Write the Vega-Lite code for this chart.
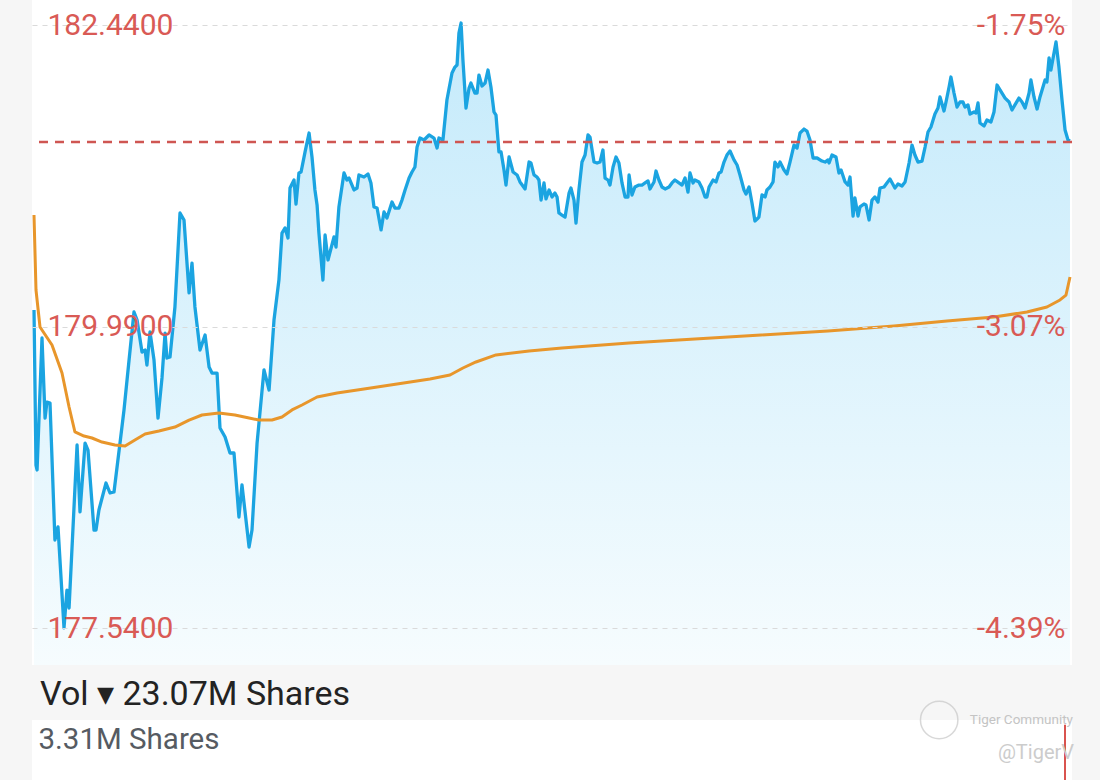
{
  "$schema": "https://vega.github.io/schema/vega-lite/v6.json",
  "background": "#f6f6f6",
  "padding": {"left": 30, "right": 30, "top": 0, "bottom": 0},
  "config": {"view": {"stroke": null, "fill": "#ffffff"}, "font": "Roboto"},
  "bounds": "flush",
  "spacing": 55,
  "datasets": {
    "price": [
      {"t":0.75,"p":180.125},{"t":1.5,"p":178.865},{"t":1.9,"p":178.825},{"t":3.75,"p":179.898},{"t":4.9,"p":179.247},{"t":5.6,"p":179.377},{"t":6.75,"p":179.369},{"t":8.6,"p":178.256},{"t":9.75,"p":178.362},{"t":12.0,"p":177.541},
      {"t":13.1,"p":177.849},{"t":13.9,"p":177.703},{"t":16.9,"p":179.028},{"t":18.0,"p":178.484},{"t":19.9,"p":179.044},{"t":21.0,"p":178.987},{"t":23.25,"p":178.337},{"t":24.0,"p":178.337},{"t":25.1,"p":178.5},{"t":27.75,"p":178.719},
      {"t":29.25,"p":178.638},{"t":30.75,"p":178.646},{"t":33.0,"p":179.044},{"t":34.5,"p":179.313},{"t":36.4,"p":179.719},{"t":38.25,"p":180.109},{"t":39.4,"p":180.044},{"t":41.25,"p":179.784},{"t":42.4,"p":179.8},{"t":43.1,"p":179.678},
      {"t":44.25,"p":179.947},{"t":45.75,"p":179.719},{"t":47.25,"p":179.247},{"t":48.75,"p":179.573},{"t":49.9,"p":179.938},{"t":50.6,"p":179.735},{"t":51.75,"p":179.743},{"t":53.6,"p":180.15},{"t":55.5,"p":180.914},{"t":57.0,"p":180.857},
      {"t":58.9,"p":180.264},{"t":60.0,"p":180.507},{"t":61.1,"p":180.15},{"t":63.0,"p":179.8},{"t":64.9,"p":179.922},{"t":66.4,"p":179.662},{"t":67.5,"p":179.613},{"t":69.4,"p":179.613},{"t":70.5,"p":179.166},{"t":72.4,"p":179.093},
      {"t":74.25,"p":178.963},{"t":75.75,"p":178.963},{"t":77.6,"p":178.443},{"t":78.75,"p":178.703},{"t":81.4,"p":178.199},{"t":82.5,"p":178.337},{"t":84.4,"p":179.044},{"t":87.0,"p":179.638},{"t":88.9,"p":179.475},{"t":90.75,"p":180.044},
      {"t":92.6,"p":180.369},{"t":93.75,"p":180.751},{"t":94.9,"p":180.792},{"t":96.0,"p":180.711},{"t":96.75,"p":181.117},{"t":98.25,"p":181.182},{"t":99.0,"p":180.987},{"t":100.1,"p":181.239},{"t":100.9,"p":181.247},{"t":102.4,"p":181.41},
      {"t":103.9,"p":181.564},{"t":105.0,"p":181.369},{"t":106.1,"p":181.101},{"t":106.9,"p":180.979},{"t":107.6,"p":180.751},{"t":109.1,"p":180.369},{"t":109.9,"p":180.735},{"t":111.0,"p":180.532},{"t":113.25,"p":180.719},{"t":114.0,"p":180.637},
      {"t":115.1,"p":180.963},{"t":117.0,"p":181.239},{"t":118.1,"p":181.182},{"t":118.9,"p":181.198},{"t":120.75,"p":181.101},{"t":121.9,"p":181.117},{"t":122.6,"p":181.223},{"t":124.5,"p":181.206},{"t":126.0,"p":181.231},{"t":127.1,"p":181.158},
      {"t":128.25,"p":180.963},{"t":129.4,"p":180.954},{"t":130.9,"p":180.776},{"t":132.0,"p":180.922},{"t":133.1,"p":180.873},{"t":135.0,"p":181.003},{"t":136.1,"p":180.954},{"t":137.6,"p":180.954},{"t":138.75,"p":181.019},{"t":139.9,"p":181.101},
      {"t":141.4,"p":181.198},{"t":142.5,"p":181.247},{"t":143.6,"p":181.288},{"t":144.4,"p":181.45},{"t":145.5,"p":181.523},{"t":147.0,"p":181.507},{"t":148.9,"p":181.548},{"t":150.75,"p":181.523},{"t":151.9,"p":181.442},{"t":152.6,"p":181.523},
      {"t":154.1,"p":181.507},{"t":155.6,"p":181.832},{"t":157.5,"p":182.052},{"t":158.6,"p":182.1},{"t":159.4,"p":182.117},{"t":160.1,"p":182.377},{"t":160.9,"p":182.458},{"t":161.6,"p":182.157},{"t":162.75,"p":181.767},{"t":163.9,"p":181.93},
      {"t":164.6,"p":181.97},{"t":166.1,"p":181.889},{"t":166.9,"p":181.889},{"t":167.6,"p":182.035},{"t":168.75,"p":181.946},{"t":169.9,"p":181.97},{"t":171.0,"p":182.076},{"t":172.1,"p":181.938},{"t":173.25,"p":181.735},{"t":174.0,"p":181.71},
      {"t":175.1,"p":181.41},{"t":175.9,"p":181.41},{"t":177.0,"p":181.263},{"t":177.75,"p":181.141},{"t":178.9,"p":181.369},{"t":180.4,"p":181.247},{"t":181.9,"p":181.223},{"t":183.0,"p":181.166},{"t":184.9,"p":181.109},{"t":186.4,"p":181.328},
      {"t":187.1,"p":181.32},{"t":188.25,"p":181.223},{"t":189.4,"p":181.206},{"t":190.1,"p":181.182},{"t":190.9,"p":181.019},{"t":192.0,"p":181.158},{"t":192.75,"p":181.028},{"t":193.9,"p":181.101},{"t":195.0,"p":181.044},{"t":196.1,"p":181.076},
      {"t":196.9,"p":181.044},{"t":197.6,"p":180.914},{"t":198.75,"p":180.897},{"t":199.9,"p":180.881},{"t":201.4,"p":181.076},{"t":202.1,"p":181.117},{"t":203.25,"p":181.019},{"t":204.0,"p":180.832},{"t":205.1,"p":181.101},{"t":206.25,"p":181.328},
      {"t":207.4,"p":181.385},{"t":208.5,"p":181.548},{"t":209.25,"p":181.531},{"t":210.75,"p":181.328},{"t":211.9,"p":181.32},{"t":213.0,"p":181.328},{"t":214.1,"p":181.426},{"t":214.9,"p":181.198},{"t":216.0,"p":181.182},{"t":216.75,"p":181.141},
      {"t":217.9,"p":181.288},{"t":219.0,"p":181.369},{"t":220.1,"p":181.32},{"t":221.25,"p":181.158},{"t":222.4,"p":181.044},{"t":223.5,"p":181.044},{"t":223.9,"p":181.223},{"t":225.0,"p":181.06},{"t":226.1,"p":181.125},{"t":227.6,"p":181.141},
      {"t":228.75,"p":181.141},{"t":229.9,"p":181.158},{"t":231.0,"p":181.174},{"t":231.75,"p":181.109},{"t":233.25,"p":181.166},{"t":234.0,"p":181.255},{"t":235.1,"p":181.182},{"t":236.25,"p":181.125},{"t":237.4,"p":181.109},{"t":238.9,"p":181.125},
      {"t":240.0,"p":181.158},{"t":241.1,"p":181.182},{"t":242.6,"p":181.158},{"t":243.75,"p":181.141},{"t":244.9,"p":181.198},{"t":246.0,"p":181.084},{"t":246.75,"p":181.239},{"t":247.9,"p":181.158},{"t":248.6,"p":181.182},{"t":250.1,"p":181.166},
      {"t":251.25,"p":181.117},{"t":252.4,"p":181.044},{"t":253.1,"p":181.044},{"t":253.9,"p":181.125},{"t":255.4,"p":181.182},{"t":256.5,"p":181.166},{"t":257.6,"p":181.239},{"t":258.4,"p":181.247},{"t":259.5,"p":181.328},{"t":260.6,"p":181.385},
      {"t":261.75,"p":181.418},{"t":263.25,"p":181.345},{"t":264.4,"p":181.304},{"t":265.5,"p":181.223},{"t":267.0,"p":181.101},{"t":267.75,"p":181.068},{"t":268.9,"p":181.125},{"t":270.0,"p":180.995},{"t":271.1,"p":180.849},{"t":271.9,"p":180.865},
      {"t":272.6,"p":180.881},{"t":273.75,"p":181.06},{"t":274.9,"p":181.044},{"t":275.6,"p":181.101},{"t":276.75,"p":181.125},{"t":277.9,"p":181.166},{"t":278.6,"p":181.328},{"t":279.75,"p":181.288},{"t":280.5,"p":181.328},{"t":282.0,"p":181.263},
      {"t":283.1,"p":181.231},{"t":284.25,"p":181.328},{"t":285.75,"p":181.466},{"t":286.9,"p":181.442},{"t":288.0,"p":181.564},{"t":289.5,"p":181.596},{"t":290.6,"p":181.58},{"t":291.75,"p":181.507},{"t":292.9,"p":181.361},{"t":294.4,"p":181.361},
      {"t":296.25,"p":181.336},{"t":297.4,"p":181.328},{"t":298.5,"p":181.345},{"t":298.9,"p":181.32},{"t":300.0,"p":181.385},{"t":301.5,"p":181.369},{"t":302.6,"p":181.239},{"t":303.4,"p":181.263},{"t":304.9,"p":181.166},{"t":306.0,"p":181.141},
      {"t":306.75,"p":181.206},{"t":307.9,"p":180.889},{"t":308.6,"p":181.036},{"t":309.75,"p":180.889},{"t":310.5,"p":180.963},{"t":312.0,"p":180.987},{"t":312.75,"p":180.979},{"t":313.9,"p":180.857},{"t":315.0,"p":181.019},{"t":316.1,"p":181.044},
      {"t":317.25,"p":181.003},{"t":318.0,"p":181.117},{"t":319.5,"p":181.125},{"t":320.6,"p":181.158},{"t":321.75,"p":181.19},{"t":323.6,"p":181.117},{"t":324.75,"p":181.149},{"t":326.25,"p":181.133},{"t":327.4,"p":181.166},{"t":328.9,"p":181.32},
      {"t":330.0,"p":181.466},{"t":331.1,"p":181.385},{"t":332.25,"p":181.328},{"t":333.75,"p":181.336},{"t":334.9,"p":181.45},{"t":336.0,"p":181.572},{"t":337.1,"p":181.613},{"t":338.6,"p":181.718},{"t":339.75,"p":181.767},{"t":340.5,"p":181.857},
      {"t":342.0,"p":181.743},{"t":342.75,"p":181.816},{"t":343.9,"p":181.938},{"t":344.6,"p":182.019},{"t":345.75,"p":181.889},{"t":346.9,"p":181.775},{"t":348.0,"p":181.816},{"t":349.1,"p":181.816},{"t":349.9,"p":181.775},{"t":351.0,"p":181.792},
      {"t":351.75,"p":181.718},{"t":353.25,"p":181.735},{"t":354.0,"p":181.727},{"t":354.75,"p":181.808},{"t":355.5,"p":181.645},{"t":357.0,"p":181.621},{"t":358.1,"p":181.67},{"t":359.6,"p":181.653},{"t":360.75,"p":181.735},{"t":361.9,"p":181.954},
      {"t":363.0,"p":181.914},{"t":364.9,"p":181.848},{"t":366.4,"p":181.816},{"t":367.5,"p":181.751},{"t":368.6,"p":181.792},{"t":370.1,"p":181.848},{"t":371.25,"p":181.816},{"t":372.4,"p":181.767},{"t":373.9,"p":181.889},{"t":374.6,"p":181.995},
      {"t":375.75,"p":181.857},{"t":376.9,"p":181.759},{"t":378.0,"p":181.857},{"t":379.9,"p":181.995},{"t":380.6,"p":181.979},{"t":381.4,"p":182.174},{"t":382.1,"p":182.076},{"t":383.25,"p":182.214},{"t":384.0,"p":182.304},{"t":385.1,"p":182.1},
      {"t":386.25,"p":181.832},{"t":387.4,"p":181.588},{"t":388.5,"p":181.507},{"t":389.25,"p":181.499}
    ],
    "avg": [
      {"t":0.75,"a":180.897},{"t":1.5,"a":180.288},{"t":3.0,"a":179.987},{"t":7.5,"a":179.841},{"t":11.25,"a":179.613},{"t":13.9,"a":179.337},{"t":16.1,"a":179.134},{"t":19.5,"a":179.101},{"t":22.5,"a":179.085},{"t":26.25,"a":179.052},
      {"t":31.1,"a":179.028},{"t":34.9,"a":179.02},{"t":38.6,"a":179.069},{"t":42.4,"a":179.117},{"t":47.6,"a":179.142},{"t":53.6,"a":179.174},{"t":58.9,"a":179.231},{"t":63.75,"a":179.272},{"t":70.1,"a":179.288},{"t":76.1,"a":179.272},
      {"t":81.4,"a":179.248},{"t":85.1,"a":179.231},{"t":90.0,"a":179.231},{"t":93.75,"a":179.256},{"t":97.5,"a":179.313},{"t":101.25,"a":179.353},{"t":106.9,"a":179.418},{"t":114.4,"a":179.451},{"t":124.5,"a":179.483},{"t":136.9,"a":179.524},
      {"t":149.25,"a":179.564},{"t":156.75,"a":179.597},{"t":161.6,"a":179.654},{"t":166.5,"a":179.703},{"t":174.0,"a":179.76},{"t":186.4,"a":179.792},{"t":198.75,"a":179.816},{"t":223.9,"a":179.857},{"t":248.6,"a":179.89},{"t":273.4,"a":179.922},
      {"t":298.5,"a":179.955},{"t":323.25,"a":179.995},{"t":343.1,"a":180.036},{"t":360.75,"a":180.068},{"t":373.1,"a":180.109},{"t":380.6,"a":180.15},{"t":385.5,"a":180.207},{"t":387.75,"a":180.247},{"t":389.25,"a":180.394}
    ],
    "last": [{"p": 181.49}],
    "vol": [{"t": 389.25, "v": 3050000}]
  },
  "vconcat": [
    {
      "width": 1040,
      "height": 665,
      "resolve": {"axis": {"y": "independent"}},
      "layer": [
        {
          "data": {"name": "price"},
          "mark": {"type": "area", "clip": true, "color": {"gradient": "linear", "x1": 0, "y1": 0, "x2": 0, "y2": 1, "stops": [{"offset": 0, "color": "#c4eafb"}, {"offset": 1, "color": "#f6fcfe"}]}},
          "encoding": {
            "x": {"field": "t", "type": "quantitative", "scale": {"domain": [0, 390], "nice": false}, "axis": null},
            "y": {"field": "p", "type": "quantitative", "scale": {"domain": [177.24, 182.645], "nice": false, "zero": false},
              "axis": {"orient": "left", "title": null, "values": [177.54, 179.99, 182.44], "format": ".4f", "domain": false, "ticks": false, "zindex": 1,
                "labelAlign": "left", "labelPadding": -15, "labelBaseline": "middle", "labelFontSize": 30, "labelColor": "#d95a55", "labelFont": "Roboto",
                "grid": true, "gridColor": "#dadada", "gridDash": [5, 5], "gridWidth": 1.2}},
            "y2": {"datum": 177.24}
          }
        },
        {
          "data": {"name": "price"},
          "mark": {"type": "line", "color": "#1ba4e1", "strokeWidth": 3.3, "strokeJoin": "round"},
          "encoding": {
            "x": {"field": "t", "type": "quantitative"},
            "y": {"field": "p", "type": "quantitative", "axis": null}
          }
        },
        {
          "data": {"name": "avg"},
          "mark": {"type": "line", "color": "#e8962b", "strokeWidth": 3, "strokeJoin": "round"},
          "encoding": {
            "x": {"field": "t", "type": "quantitative"},
            "y": {"field": "a", "type": "quantitative",
              "axis": {"orient": "right", "title": null, "values": [177.54, 179.99, 182.44], "domain": false, "ticks": false, "grid": false, "zindex": 1,
                "labelExpr": "(datum.value < 185.69 ? '-' : '') + format(abs(datum.value / 185.69 - 1) * 100, '.2f') + '%'",
                "labelAlign": "right", "labelPadding": -7, "labelBaseline": "middle", "labelFontSize": 30, "labelColor": "#d95a55", "labelFont": "Roboto"}}
          }
        },
        {
          "data": {"name": "last"},
          "mark": {"type": "rule", "color": "#cf5652", "strokeWidth": 2.5, "strokeDash": [9, 7]},
          "encoding": {
            "y": {"field": "p", "type": "quantitative", "axis": null}
          }
        }
      ]
    },
    {
      "width": 1040,
      "height": 60,
      "title": {"text": "Vol ▾ 23.07M Shares", "anchor": "start", "frame": "group", "dx": 8, "dy": 23, "offset": -18, "fontSize": 34, "fontWeight": "normal", "color": "#232323", "font": "Roboto", "baseline": "alphabetic"},
      "layer": [
        {
          "data": {"name": "vol"},
          "mark": {"type": "bar", "color": "#d9534f", "size": 2},
          "encoding": {
            "x": {"field": "t", "type": "quantitative", "scale": {"domain": [0, 390], "nice": false}, "axis": null},
            "y": {"field": "v", "type": "quantitative", "scale": {"domain": [0, 3310000], "nice": false},
              "axis": {"orient": "left", "title": null, "values": [3310000], "labelExpr": "'3.31M Shares'", "domain": false, "ticks": false, "grid": false, "zindex": 1,
                "labelAlign": "left", "labelPadding": -6, "labelBaseline": "middle", "labelOffset": 19, "labelLimit": 500, "labelFontSize": 29.5, "labelColor": "#565b62", "labelFont": "Roboto"}}
          }
        },
        {
          "data": {"values": [{}]},
          "mark": {"type": "point", "shape": "circle", "filled": false, "size": 1400, "color": "#c8c8c8", "strokeWidth": 1.5},
          "encoding": {"x": {"datum": 341.6, "type": "quantitative"}, "y": {"datum": 3310000, "type": "quantitative"}}
        },
        {
          "data": {"values": [{}]},
          "mark": {"type": "text", "text": "Tiger Community", "align": "right", "baseline": "middle", "dx": 6, "fontSize": 13.5, "color": "#c4c4c4", "font": "Roboto"},
          "encoding": {"x": {"datum": 390, "type": "quantitative"}, "y": {"datum": 3310000, "type": "quantitative"}}
        },
        {
          "data": {"values": [{}]},
          "mark": {"type": "text", "text": "@TigerV", "align": "right", "baseline": "middle", "dx": 7, "fontSize": 20, "color": "#cccccc", "font": "Roboto"},
          "encoding": {"x": {"datum": 390, "type": "quantitative"}, "y": {"datum": 1490000, "type": "quantitative"}}
        }
      ]
    }
  ]
}
